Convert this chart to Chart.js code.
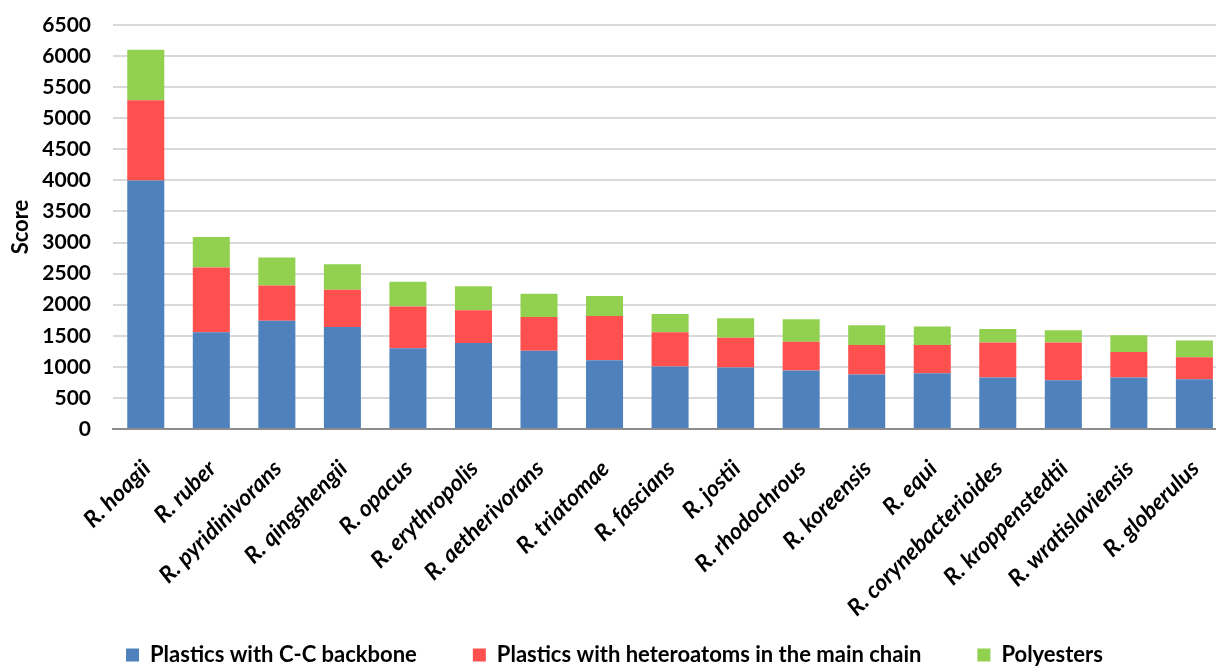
<!DOCTYPE html>
<html>
<head>
<meta charset="utf-8">
<script src="https://cdn.jsdelivr.net/npm/chart.js@4/dist/chart.umd.min.js"></script>
<style>
html,body{margin:0;padding:0;background:#fff;overflow:hidden;}
#wrap{position:absolute;left:0;top:0;width:1232px;height:666px;}
</style>
</head>
<body>
<div id="wrap"><canvas id="c"></canvas></div>
<script>
const categories = ["R. hoagii","R. ruber","R. pyridinivorans","R. qingshengii","R. opacus","R. erythropolis","R. aetherivorans","R. triatomae","R. fascians","R. jostii","R. rhodochrous","R. koreensis","R. equi","R. corynebacterioides","R. kroppenstedtii","R. wratislaviensis","R. globerulus"];
const ccBackbone = [4000,1555,1740,1640,1300,1385,1260,1105,1005,990,940,875,895,830,785,830,800];
const heteroatoms = [1290,1045,570,600,670,525,540,715,550,480,465,475,455,560,605,410,355];
const polyesters = [810,490,450,410,400,385,375,320,295,310,360,320,300,220,200,270,270];
const seriesNames = ["Plastics with C-C backbone","Plastics with heteroatoms in the main chain","Polyesters"];
const yTicks = [0,500,1000,1500,2000,2500,3000,3500,4000,4500,5000,5500,6000,6500];

// let the rotated category labels extend below the axis box (into the legend gap)
Chart.CategoryScale.prototype._computeLabelArea = function () { return undefined; };

const FONT = "Lato, 'Open Sans', 'DejaVu Sans', sans-serif";
new Chart(document.getElementById('c'), {
  type: 'bar',
  data: {
    labels: categories,
    datasets: [
      {label: seriesNames[0], data: ccBackbone, backgroundColor: '#4F81BD'},
      {label: seriesNames[1], data: heteroatoms, backgroundColor: '#FF5050'},
      {label: seriesNames[2], data: polyesters, backgroundColor: '#92D050'}
    ]
  },
  options: {
    responsive: true,
    maintainAspectRatio: false,
    animation: false,
    datasets: {bar: {barPercentage: 0.565, categoryPercentage: 1.0}},
    layout: {padding: {top: 25, left: 0, right: 3, bottom: -10}},
    plugins: {
      legend: {
        position: 'bottom',
        labels: {
          font: {family: FONT, size: 22, weight: 'bold'},
          color: '#000',
          boxWidth: 13, boxHeight: 13,
          padding: 56
        }
      },
      tooltip: {enabled: false}
    },
    scales: {
      x: {
        stacked: true,
        grid: {display: false},
        border: {display: true, color: '#8c8c8c', width: 2},
        ticks: {
          autoSkip: false, maxRotation: 45, minRotation: 45,
          font: {family: FONT, size: 23, weight: 'bold', style: 'italic'},
          color: '#000', padding: 18, labelOffset: 1
        },
        afterFit: (s) => { s.height = 159; }
      },
      y: {
        stacked: true,
        min: 0, max: 6500,
        afterBuildTicks: (s) => { s.ticks = yTicks.map(v => ({value: v})); },
        grid: {color: '#d9d9d9', lineWidth: 2, drawTicks: true, tickLength: 22, tickColor: 'rgba(0,0,0,0)'},
        border: {display: false},
        ticks: {
          font: {family: FONT, size: 21, weight: 'bold'},
          color: '#000', padding: 0,
          callback: (v) => String(v)
        },
        title: {
          display: true, text: 'Score',
          font: {family: FONT, size: 22, weight: 'bold'},
          color: '#000', padding: {top: 8, bottom: 0}
        },
        afterFit: (s) => { s.width = 113; }
      }
    }
  }
});
</script>
</body>
</html>
